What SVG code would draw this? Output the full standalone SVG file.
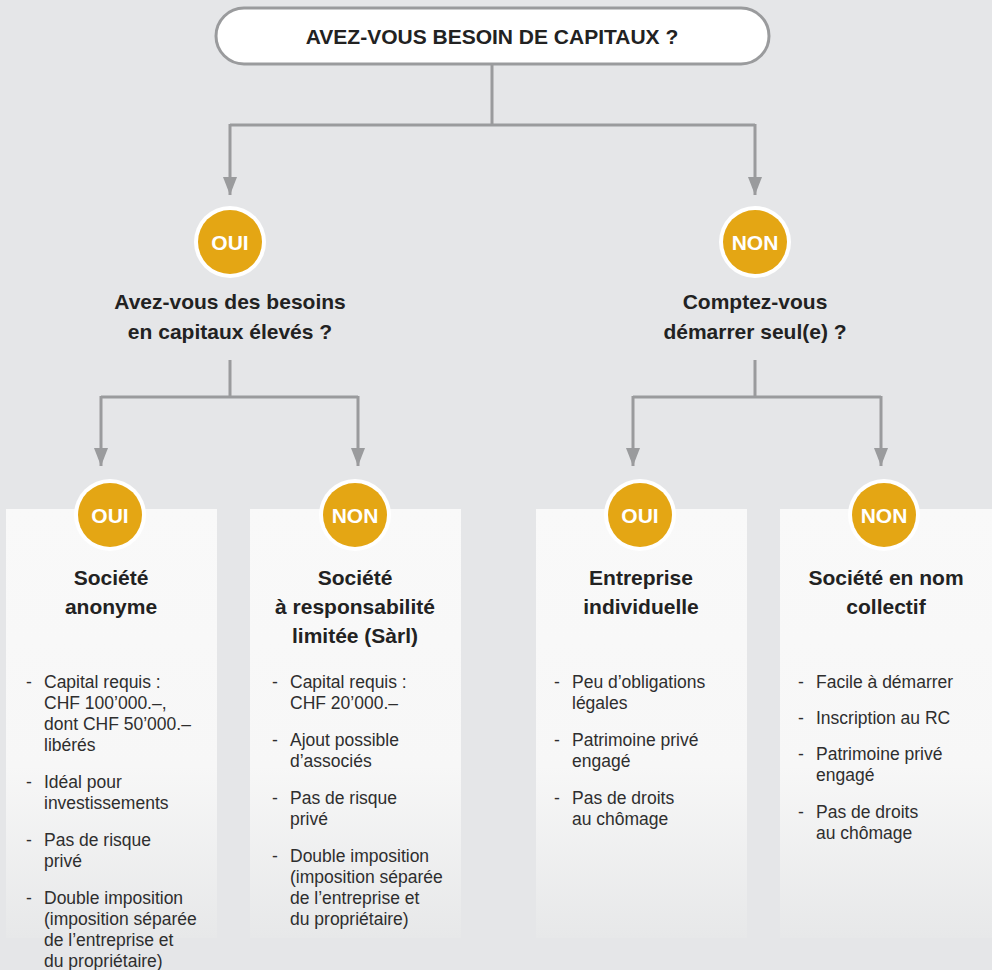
<svg xmlns="http://www.w3.org/2000/svg" width="992" height="970" viewBox="0 0 992 970">
<defs>
<style>
.bg{fill:#e5e6e8}
.card{fill:url(#cg)}
.conn{fill:none;stroke:#9a9b9d;stroke-width:3}
.ring{fill:#ffffff}
.gold{fill:#e4a614}
.ct{font-family:"Liberation Sans",Arial,sans-serif;font-weight:bold;font-size:21px;fill:#ffffff;text-anchor:middle}
.q{font-family:"Liberation Sans",Arial,sans-serif;font-weight:bold;font-size:21px;fill:#222222;text-anchor:middle}
.t{font-family:"Liberation Sans",Arial,sans-serif;font-weight:bold;font-size:21px;fill:#222222;text-anchor:middle}
.b{font-family:"Liberation Sans",Arial,sans-serif;font-size:17.5px;fill:#2e2e2e}
</style>
<linearGradient id="cg" x1="0" y1="0" x2="0" y2="1">
<stop offset="0" stop-color="#f9f9f9"/>
<stop offset="0.6" stop-color="#f7f7f7"/>
<stop offset="1" stop-color="#e7e8e9"/>
</linearGradient>
<marker id="ah" viewBox="0 0 18 14" refX="18" refY="7" markerWidth="18" markerHeight="14" markerUnits="userSpaceOnUse" orient="auto">
<path d="M0,0 L18,7 L0,14 Z" fill="#9a9b9d"/>
</marker>
</defs>
<rect class="bg" x="0" y="0" width="992" height="970"/>

<g id="connectors">
<path class="conn" d="M492,64 V125"/>
<path class="conn" d="M230,125 H755"/>
<path class="conn" d="M230,124 V195" marker-end="url(#ah)"/>
<path class="conn" d="M755,124 V195" marker-end="url(#ah)"/>
<path class="conn" d="M230,360 V397"/>
<path class="conn" d="M101,397 H358"/>
<path class="conn" d="M101,396 V466" marker-end="url(#ah)"/>
<path class="conn" d="M358,396 V466" marker-end="url(#ah)"/>
<path class="conn" d="M755,360 V397"/>
<path class="conn" d="M633,397 H881"/>
<path class="conn" d="M633,396 V466" marker-end="url(#ah)"/>
<path class="conn" d="M881,396 V466" marker-end="url(#ah)"/>
</g>

<g id="start">
<rect x="216" y="8" width="553" height="56" rx="28" ry="28" fill="#ffffff" stroke="#9a9b9d" stroke-width="3"/>
<text class="q" x="492" y="44" font-size="21.5">AVEZ-VOUS BESOIN DE CAPITAUX ?</text>
</g>

<g id="q-oui">
<circle class="ring" cx="230" cy="242" r="36"/>
<circle class="gold" cx="230" cy="242" r="32"/>
<text class="ct" x="230" y="250">OUI</text>
<text class="q" x="230" y="309">Avez-vous des besoins</text>
<text class="q" x="230" y="339">en capitaux élevés ?</text>
</g>

<g id="q-non">
<circle class="ring" cx="755" cy="242" r="36"/>
<circle class="gold" cx="755" cy="242" r="32"/>
<text class="ct" x="755" y="250">NON</text>
<text class="q" x="755" y="309">Comptez-vous</text>
<text class="q" x="755" y="339">démarrer seul(e) ?</text>
</g>

<g id="card-sa">
<rect class="card" x="6" y="509" width="211" height="429"/>
<circle class="ring" cx="110" cy="515" r="36"/>
<circle class="gold" cx="110" cy="515" r="32"/>
<text class="ct" x="110" y="523">OUI</text>
<text class="t" x="111" y="585">Société</text>
<text class="t" x="111" y="614">anonyme</text>
<text class="b" x="26" y="688">-</text>
<text class="b" x="44" y="688">Capital requis :</text>
<text class="b" x="44" y="709">CHF 100’000.–,</text>
<text class="b" x="44" y="730">dont CHF 50’000.–</text>
<text class="b" x="44" y="751">libérés</text>
<text class="b" x="26" y="788">-</text>
<text class="b" x="44" y="788">Idéal pour</text>
<text class="b" x="44" y="809">investissements</text>
<text class="b" x="26" y="846">-</text>
<text class="b" x="44" y="846">Pas de risque</text>
<text class="b" x="44" y="867">privé</text>
<text class="b" x="26" y="904">-</text>
<text class="b" x="44" y="904">Double imposition</text>
<text class="b" x="44" y="925">(imposition séparée</text>
<text class="b" x="44" y="946">de l’entreprise et</text>
<text class="b" x="44" y="967">du propriétaire)</text>
</g>

<g id="card-sarl">
<rect class="card" x="250" y="509" width="211" height="429"/>
<circle class="ring" cx="355" cy="515" r="36"/>
<circle class="gold" cx="355" cy="515" r="32"/>
<text class="ct" x="355" y="523">NON</text>
<text class="t" x="355" y="585">Société</text>
<text class="t" x="355" y="614">à responsabilité</text>
<text class="t" x="355" y="643">limitée (Sàrl)</text>
<text class="b" x="272" y="688">-</text>
<text class="b" x="290" y="688">Capital requis :</text>
<text class="b" x="290" y="709">CHF 20’000.–</text>
<text class="b" x="272" y="746">-</text>
<text class="b" x="290" y="746">Ajout possible</text>
<text class="b" x="290" y="767">d’associés</text>
<text class="b" x="272" y="804">-</text>
<text class="b" x="290" y="804">Pas de risque</text>
<text class="b" x="290" y="825">privé</text>
<text class="b" x="272" y="862">-</text>
<text class="b" x="290" y="862">Double imposition</text>
<text class="b" x="290" y="883">(imposition séparée</text>
<text class="b" x="290" y="904">de l’entreprise et</text>
<text class="b" x="290" y="925">du propriétaire)</text>
</g>

<g id="card-ei">
<rect class="card" x="536" y="509" width="211" height="429"/>
<circle class="ring" cx="640" cy="515" r="36"/>
<circle class="gold" cx="640" cy="515" r="32"/>
<text class="ct" x="640" y="523">OUI</text>
<text class="t" x="641" y="585">Entreprise</text>
<text class="t" x="641" y="614">individuelle</text>
<text class="b" x="554" y="688">-</text>
<text class="b" x="572" y="688">Peu d’obligations</text>
<text class="b" x="572" y="709">légales</text>
<text class="b" x="554" y="746">-</text>
<text class="b" x="572" y="746">Patrimoine privé</text>
<text class="b" x="572" y="767">engagé</text>
<text class="b" x="554" y="804">-</text>
<text class="b" x="572" y="804">Pas de droits</text>
<text class="b" x="572" y="825">au chômage</text>
</g>

<g id="card-snc">
<rect class="card" x="780" y="509" width="212" height="429"/>
<circle class="ring" cx="884" cy="515" r="36"/>
<circle class="gold" cx="884" cy="515" r="32"/>
<text class="ct" x="884" y="523">NON</text>
<text class="t" x="886" y="585">Société en nom</text>
<text class="t" x="886" y="614">collectif</text>
<text class="b" x="798" y="688">-</text>
<text class="b" x="816" y="688">Facile à démarrer</text>
<text class="b" x="798" y="724">-</text>
<text class="b" x="816" y="724">Inscription au RC</text>
<text class="b" x="798" y="760">-</text>
<text class="b" x="816" y="760">Patrimoine privé</text>
<text class="b" x="816" y="781">engagé</text>
<text class="b" x="798" y="818">-</text>
<text class="b" x="816" y="818">Pas de droits</text>
<text class="b" x="816" y="839">au chômage</text>
</g>
</svg>
